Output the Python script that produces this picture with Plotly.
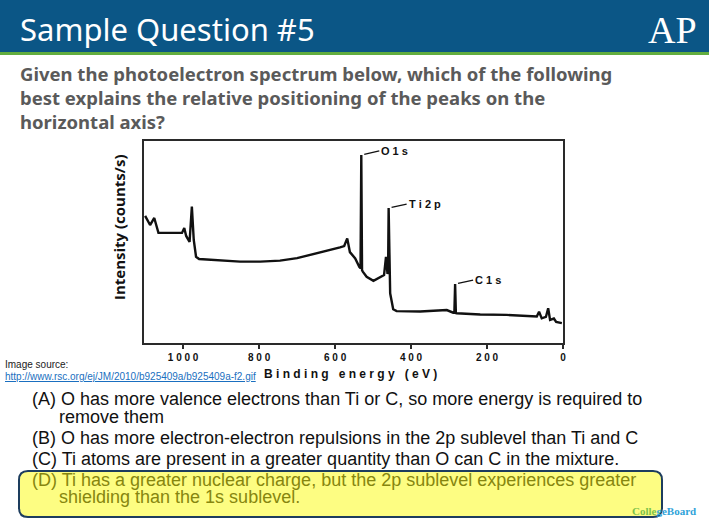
import plotly.graph_objects as go

# ---------------- data ----------------
binding_energy_ev = [1100, 1087, 1076, 1065, 1034, 1003, 997, 992, 983, 977, 972,
                     966, 958, 903, 850, 797, 745, 700, 650, 610, 587, 576, 568, 561,
                     547, 536, 533, 531, 529, 527, 517, 499, 482, 471, 466, 462,
                     460.5, 459, 457, 455, 447, 438, 376, 306, 289, 286, 284, 282,
                     280, 218, 148, 69, 63, 56, 45, 39, 34, 24, 18, 3]
intensity = [62.9, 58.4, 61.9, 54.6, 54.5, 54.5, 56.9, 53.0, 50.1, 67.5, 51.0,
             42.7, 41.6, 40.8, 40.3, 40.3, 40.8, 42.0, 44.2, 46.0, 47.3, 48.0, 51.8, 45.0,
             41.9, 37.6, 37.0, 93.1, 36.0, 35.3, 32.8, 30.8, 32.7, 33.7, 42.7, 34.2,
             35.0, 66.8, 30.0, 24.6, 16.7, 15.8, 15.6, 16.3, 15.0, 15.0, 29.2, 14.8,
             14.7, 14.1, 13.9, 13.1, 15.5, 12.2, 12.9, 17.2, 11.4, 12.1, 10.4, 9.8]

peak_labels = ["O 1 s", "T i 2 p", "C 1 s"]
peak_energy = [531, 459, 284]
peak_height = [93.1, 66.8, 29.2]

x_tick_values = [1000, 800, 600, 400, 200, 0]
x_tick_labels = ["1 0 0 0", "8 0 0", "6 0 0", "4 0 0", "2 0 0", "0"]

title_text = "Sample Question #5"
question_lines = [
    "Given the photoelectron spectrum below, which of the following",
    "best explains the relative positioning of the peaks on the",
    "horizontal axis?",
]
answer_lines = [
    "(A) O has more valence electrons than Ti or C, so more energy is required to",
    "remove them",
    "(B) O has more electron-electron repulsions in the 2p sublevel than Ti and C",
    "(C) Ti atoms are present in a greater quantity than O can C in the mixture.",
    "(D) Ti has a greater nuclear charge, but the 2p sublevel experiences greater",
    "shielding than the 1s sublevel.",
]

# ---------------- geometry helpers (pixel -> paper) ----------------
W, H = 709, 522
PL, PR, PT, PB = 144, 563, 141, 343


def fx(px):
    return (px - PL) / (PR - PL)


def fy(py):
    return (PB - py) / (PB - PT)


fig = go.Figure()
fig.add_trace(go.Scatter(
    x=binding_energy_ev, y=intensity, mode="lines",
    line=dict(color="#111111", width=2.4), hoverinfo="skip", showlegend=False,
))

shapes = []
shapes.append(dict(type="rect", xref="paper", yref="paper", x0=fx(-2), x1=fx(W + 2),
                   y0=fy(52), y1=fy(-2), fillcolor="#0b5686", line=dict(width=0),
                   layer="below"))
shapes.append(dict(type="rect", xref="paper", yref="paper", x0=fx(-2), x1=fx(W + 2),
                   y0=fy(55), y1=fy(52), fillcolor="#62ad3f", line=dict(width=0),
                   layer="below"))

bx0, bx1, by0, by1, r = 19, 662, 471, 517, 9
path = (f"M {fx(bx0 + r)},{fy(by0)} L {fx(bx1 - r)},{fy(by0)} "
        f"Q {fx(bx1)},{fy(by0)} {fx(bx1)},{fy(by0 + r)} "
        f"L {fx(bx1)},{fy(by1 - r)} Q {fx(bx1)},{fy(by1)} {fx(bx1 - r)},{fy(by1)} "
        f"L {fx(bx0 + r)},{fy(by1)} Q {fx(bx0)},{fy(by1)} {fx(bx0)},{fy(by1 - r)} "
        f"L {fx(bx0)},{fy(by0 + r)} Q {fx(bx0)},{fy(by0)} {fx(bx0 + r)},{fy(by0)} Z")
shapes.append(dict(type="path", xref="paper", yref="paper", path=path,
                   fillcolor="#fdfd82", line=dict(color="#1d3d5e", width=2),
                   layer="below"))

ann = []


def text(px, py, s, size, color, family, anchor="left", bold=False, angle=0):
    ann.append(dict(xref="paper", yref="paper", x=fx(px), y=fy(py), text=s,
                    showarrow=False, xanchor=anchor, yanchor="middle",
                    align="left", textangle=angle,
                    font=dict(size=size, color=color, family=family,
                              weight="bold" if bold else "normal")))


text(18, 29, title_text, 31, "white", "Noto Sans")
text(699, 30, "AP", 38, "white", "Liberation Serif", anchor="right")

# question as one three-line block
text(18, 97, "<br>".join(question_lines), 18.5, "#5a5a5a", "Noto Sans", bold=True)

ay_ = [399, 417, 438, 459, 480, 497]
ax_ = [30, 57, 30, 30, 30, 57]
for i, (s, y, x) in enumerate(zip(answer_lines, ay_, ax_)):
    col = "#86860f" if i >= 4 else "#111111"
    text(x, y, s, 18, col, "Liberation Sans")

text(3, 364, "Image source:", 10, "#222222", "Liberation Sans")
text(3, 376, "<u>http://www.rsc.org/ej/JM/2010/b925409a/b925409a-f2.gif</u>", 10,
     "#1a6fc0", "Liberation Sans")

text(350, 374, "B i n d i n g   e n e r g y   ( e V )", 12, "#111111",
     "Liberation Sans", anchor="center", bold=True)
text(119, 227, "Intensity (counts/s)", 15, "#111111", "Open Sans",
     anchor="center", bold=True, angle=-90)

text(698, 511, "<span style='color:#7cc24a'>Colle</span>geBoard", 11,
     "#2fa3d9", "Liberation Serif", anchor="right", bold=True)

for lab, xe, yi in zip(peak_labels, peak_energy, peak_height):
    ann.append(dict(x=xe, y=yi, xref="x", yref="y", text=lab, showarrow=True,
                    arrowhead=0, arrowwidth=1.3, arrowcolor="#111111",
                    ax=18, ay=-4, xanchor="left", yanchor="middle", standoff=3,
                    font=dict(size=11, color="#111111", family="Liberation Sans",
                              weight="bold")))

fig.update_layout(
    width=W, height=H, autosize=False,
    margin=dict(l=PL, r=W - PR, t=PT, b=H - PB, pad=0),
    paper_bgcolor="white", plot_bgcolor="white",
    shapes=shapes, annotations=ann, showlegend=False,
    xaxis=dict(range=[1103, 0], showgrid=False, zeroline=False,
               showline=True, mirror=True, linecolor="#2a2a2a", linewidth=2,
               ticks="outside", ticklen=4, tickwidth=2, tickcolor="#2a2a2a",
               tickvals=x_tick_values, ticktext=x_tick_labels,
               tickfont=dict(size=10, family="Liberation Sans", color="#111111",
                             weight="bold")),
    yaxis=dict(range=[0, 100], showgrid=False, zeroline=False, showticklabels=False,
               showline=True, mirror=True, linecolor="#2a2a2a", linewidth=2,
               ticks=""),
)

fig.write_html("out.html", config={"displayModeBar": False},
               post_script="document.body.style.margin='0px';"
                           "document.body.style.overflow='hidden';")
